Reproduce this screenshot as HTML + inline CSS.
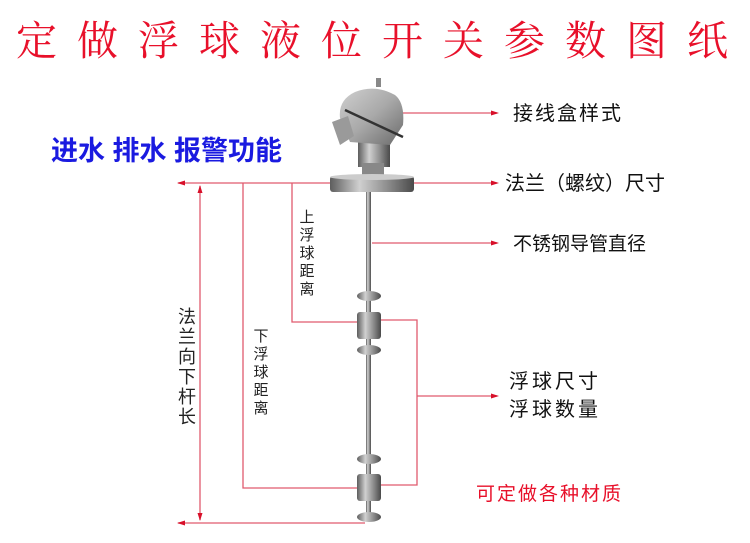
<!DOCTYPE html>
<html><head><meta charset="utf-8"><style>
html,body{margin:0;padding:0;background:#fff;}
svg{display:block}
text{font-family:"Liberation Sans","Noto Sans CJK SC",sans-serif;}
</style></head><body>
<svg width="750" height="543" viewBox="0 0 750 543" xmlns="http://www.w3.org/2000/svg">
<defs>
<linearGradient id="m" x1="0" x2="1"><stop offset="0" stop-color="#5d5d5d"/><stop offset=".35" stop-color="#d0d0d0"/><stop offset=".7" stop-color="#8a8a8a"/><stop offset="1" stop-color="#4a4a4a"/></linearGradient>
<linearGradient id="h" x1="0" y1="0" x2="1" y2="1"><stop offset="0" stop-color="#d0d0d0"/><stop offset=".5" stop-color="#a9a9a9"/><stop offset="1" stop-color="#6a6a6a"/></linearGradient>
</defs>
<text x="16" y="55" font-size="41" fill="#e8102a" letter-spacing="20" style="font-family:'Noto Serif CJK SC',serif">定做浮球液位开关参数图纸</text>
<text x="51" y="160" font-size="27" font-weight="bold" fill="#1a1ae0">进水 排水 报警功能</text>

<g stroke="#e05a6e" stroke-width="1.3" fill="none">
<line x1="178" y1="183" x2="345" y2="183"/>
<line x1="178" y1="523" x2="365" y2="523"/>
<line x1="200" y1="186" x2="200" y2="520"/>
<polyline points="243,183 243,488 362,488"/>
<polyline points="292,183 292,322 362,322"/>
<line x1="372" y1="113" x2="497" y2="113"/>
<line x1="405" y1="183" x2="497" y2="183"/>
<line x1="372" y1="243" x2="497" y2="243"/>
<polyline points="380,320 417,320 417,485 380,485"/>
<line x1="417" y1="396" x2="497" y2="396"/>
</g>
<g fill="#d8102a">
<polygon points="177,183 185,180.5 185,185.5"/>
<polygon points="177,523 185,520.5 185,525.5"/>
<polygon points="200,185 197.5,193 202.5,193"/>
<polygon points="200,521 197.5,513 202.5,513"/>
<polygon points="499,113 491,110.5 491,115.5"/>
<polygon points="499,183 491,180.5 491,185.5"/>
<polygon points="499,243 491,240.5 491,245.5"/>
<polygon points="499,396 491,393.5 491,398.5"/>
</g>

<rect x="366" y="185" width="5" height="335" fill="url(#m)"/>
<rect x="358" y="135" width="32" height="32" fill="url(#m)"/>
<path d="M340 118 Q338 100 355 92 Q375 84 395 95 Q405 103 403 125 L390 145 L350 142 Z" fill="url(#h)"/>
<path d="M332 122 L348 116 L354 136 L340 145 Z" fill="#9a9a9a"/>
<path d="M345 110 L403 137" stroke="#333" stroke-width="2.5"/>
<rect x="376" y="78" width="5" height="9" fill="#888"/>
<rect x="362" y="163" width="22" height="12" fill="#888"/>
<rect x="330" y="176" width="84" height="16" rx="3" fill="url(#m)"/>
<ellipse cx="372" cy="177" rx="42" ry="3" fill="#ccc"/>
<g fill="url(#m)">
<ellipse cx="369" cy="296" rx="12" ry="5"/>
<rect x="357" y="312" width="24" height="27" rx="3"/>
<ellipse cx="369" cy="350" rx="12" ry="5"/>
<ellipse cx="369" cy="459" rx="12" ry="5"/>
<rect x="357" y="474" width="24" height="27" rx="3"/>
<ellipse cx="369" cy="517" rx="12" ry="5"/>
</g>

<g font-size="15" fill="#222" text-anchor="middle">
<text x="307" y="222">上</text><text x="307" y="240">浮</text><text x="307" y="258">球</text><text x="307" y="276">距</text><text x="307" y="294">离</text>
<text x="261" y="341">下</text><text x="261" y="359">浮</text><text x="261" y="377">球</text><text x="261" y="395">距</text><text x="261" y="413">离</text>
<text x="187" y="323" font-size="18">法</text><text x="187" y="343" font-size="18">兰</text><text x="187" y="363" font-size="18">向</text><text x="187" y="383" font-size="18">下</text><text x="187" y="403" font-size="18">杆</text><text x="187" y="423" font-size="18">长</text>
</g>

<g font-size="20" fill="#111">
<text x="513" y="120" letter-spacing="2">接线盒样式</text>
<text x="505" y="190">法兰（螺纹）尺寸</text>
<text x="513" y="250" font-size="19">不锈钢导管直径</text>
<text x="509" y="388" letter-spacing="3">浮球尺寸</text>
<text x="509" y="416" letter-spacing="3">浮球数量</text>
<text x="476" y="500" font-size="19" fill="#e8102a" letter-spacing="2">可定做各种材质</text>
</g>
</svg>
</body></html>
